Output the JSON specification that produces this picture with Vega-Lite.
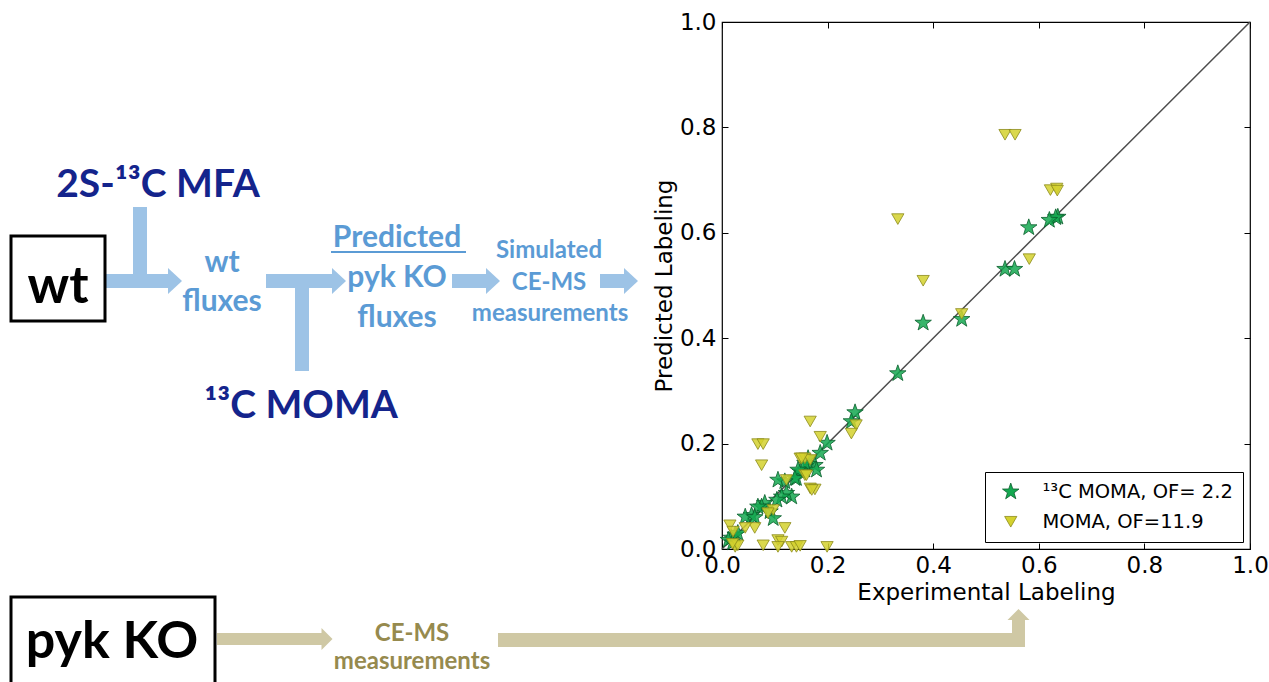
{
  "$schema": "https://vega.github.io/schema/vega-lite/v6.json",
  "width": 528,
  "height": 527,
  "autosize": {"type": "none"},
  "padding": {"left": 722, "top": 22, "right": 19, "bottom": 133},
  "background": "white",
  "config": {"view": {"stroke": "#000", "strokeWidth": 1.2}},
  "layer": [
    {
      "layer": [
        {
          "data": {"values": [{"exp": 0, "pred": 0}, {"exp": 1, "pred": 1}]},
          "mark": {"type": "line", "color": "#4d4d4d", "strokeWidth": 1.5},
          "encoding": {
            "x": {"field": "exp", "type": "quantitative", "scale": {"domain": [0, 1], "nice": false},
              "axis": {"orient": "top", "labels": false, "title": null, "domain": false, "grid": false, "tickSize": -6, "tickColor": "#000", "values": [0, 0.2, 0.4, 0.6, 0.8, 1]}},
            "y": {"field": "pred", "type": "quantitative", "scale": {"domain": [0, 1], "nice": false},
              "axis": {"orient": "right", "labels": false, "title": null, "domain": false, "grid": false, "tickSize": -6, "tickColor": "#000", "values": [0, 0.2, 0.4, 0.6, 0.8, 1]}}
          }
        },
        {
          "data": {"values": [
            {"model": "¹³C MOMA, OF= 2.2", "exp": 0.636, "pred": 0.630},
            {"model": "¹³C MOMA, OF= 2.2", "exp": 0.632, "pred": 0.629},
            {"model": "¹³C MOMA, OF= 2.2", "exp": 0.620, "pred": 0.624},
            {"model": "¹³C MOMA, OF= 2.2", "exp": 0.581, "pred": 0.610},
            {"model": "¹³C MOMA, OF= 2.2", "exp": 0.536, "pred": 0.531},
            {"model": "¹³C MOMA, OF= 2.2", "exp": 0.554, "pred": 0.531},
            {"model": "¹³C MOMA, OF= 2.2", "exp": 0.381, "pred": 0.429},
            {"model": "¹³C MOMA, OF= 2.2", "exp": 0.454, "pred": 0.436},
            {"model": "¹³C MOMA, OF= 2.2", "exp": 0.333, "pred": 0.333},
            {"model": "¹³C MOMA, OF= 2.2", "exp": 0.252, "pred": 0.259},
            {"model": "¹³C MOMA, OF= 2.2", "exp": 0.245, "pred": 0.242},
            {"model": "¹³C MOMA, OF= 2.2", "exp": 0.199, "pred": 0.201},
            {"model": "¹³C MOMA, OF= 2.2", "exp": 0.186, "pred": 0.182},
            {"model": "¹³C MOMA, OF= 2.2", "exp": 0.176, "pred": 0.159},
            {"model": "¹³C MOMA, OF= 2.2", "exp": 0.163, "pred": 0.161},
            {"model": "¹³C MOMA, OF= 2.2", "exp": 0.157, "pred": 0.150},
            {"model": "¹³C MOMA, OF= 2.2", "exp": 0.148, "pred": 0.147},
            {"model": "¹³C MOMA, OF= 2.2", "exp": 0.179, "pred": 0.150},
            {"model": "¹³C MOMA, OF= 2.2", "exp": 0.141, "pred": 0.134},
            {"model": "¹³C MOMA, OF= 2.2", "exp": 0.163, "pred": 0.172},
            {"model": "¹³C MOMA, OF= 2.2", "exp": 0.157, "pred": 0.163},
            {"model": "¹³C MOMA, OF= 2.2", "exp": 0.144, "pred": 0.150},
            {"model": "¹³C MOMA, OF= 2.2", "exp": 0.138, "pred": 0.134},
            {"model": "¹³C MOMA, OF= 2.2", "exp": 0.132, "pred": 0.099},
            {"model": "¹³C MOMA, OF= 2.2", "exp": 0.119, "pred": 0.128},
            {"model": "¹³C MOMA, OF= 2.2", "exp": 0.106, "pred": 0.131},
            {"model": "¹³C MOMA, OF= 2.2", "exp": 0.122, "pred": 0.106},
            {"model": "¹³C MOMA, OF= 2.2", "exp": 0.113, "pred": 0.099},
            {"model": "¹³C MOMA, OF= 2.2", "exp": 0.104, "pred": 0.093},
            {"model": "¹³C MOMA, OF= 2.2", "exp": 0.091, "pred": 0.071},
            {"model": "¹³C MOMA, OF= 2.2", "exp": 0.097, "pred": 0.058},
            {"model": "¹³C MOMA, OF= 2.2", "exp": 0.081, "pred": 0.087},
            {"model": "¹³C MOMA, OF= 2.2", "exp": 0.075, "pred": 0.080},
            {"model": "¹³C MOMA, OF= 2.2", "exp": 0.068, "pred": 0.080},
            {"model": "¹³C MOMA, OF= 2.2", "exp": 0.056, "pred": 0.064},
            {"model": "¹³C MOMA, OF= 2.2", "exp": 0.044, "pred": 0.061},
            {"model": "¹³C MOMA, OF= 2.2", "exp": 0.025, "pred": 0.027},
            {"model": "¹³C MOMA, OF= 2.2", "exp": 0.018, "pred": 0.021},
            {"model": "¹³C MOMA, OF= 2.2", "exp": 0.012, "pred": 0.017},
            {"model": "¹³C MOMA, OF= 2.2", "exp": 0.020, "pred": 0.012},
            {"model": "¹³C MOMA, OF= 2.2", "exp": 0.030, "pred": 0.030},
            {"model": "¹³C MOMA, OF= 2.2", "exp": 0.062, "pred": 0.060},
            {"model": "MOMA, OF=11.9", "exp": 0.536, "pred": 0.786},
            {"model": "MOMA, OF=11.9", "exp": 0.555, "pred": 0.786},
            {"model": "MOMA, OF=11.9", "exp": 0.622, "pred": 0.681},
            {"model": "MOMA, OF=11.9", "exp": 0.634, "pred": 0.684},
            {"model": "MOMA, OF=11.9", "exp": 0.635, "pred": 0.680},
            {"model": "MOMA, OF=11.9", "exp": 0.333, "pred": 0.626},
            {"model": "MOMA, OF=11.9", "exp": 0.582, "pred": 0.550},
            {"model": "MOMA, OF=11.9", "exp": 0.381, "pred": 0.509},
            {"model": "MOMA, OF=11.9", "exp": 0.454, "pred": 0.446},
            {"model": "MOMA, OF=11.9", "exp": 0.254, "pred": 0.235},
            {"model": "MOMA, OF=11.9", "exp": 0.245, "pred": 0.219},
            {"model": "MOMA, OF=11.9", "exp": 0.167, "pred": 0.242},
            {"model": "MOMA, OF=11.9", "exp": 0.186, "pred": 0.213},
            {"model": "MOMA, OF=11.9", "exp": 0.068, "pred": 0.199},
            {"model": "MOMA, OF=11.9", "exp": 0.078, "pred": 0.199},
            {"model": "MOMA, OF=11.9", "exp": 0.075, "pred": 0.159},
            {"model": "MOMA, OF=11.9", "exp": 0.148, "pred": 0.172},
            {"model": "MOMA, OF=11.9", "exp": 0.157, "pred": 0.172},
            {"model": "MOMA, OF=11.9", "exp": 0.167, "pred": 0.169},
            {"model": "MOMA, OF=11.9", "exp": 0.151, "pred": 0.172},
            {"model": "MOMA, OF=11.9", "exp": 0.157, "pred": 0.140},
            {"model": "MOMA, OF=11.9", "exp": 0.160, "pred": 0.140},
            {"model": "MOMA, OF=11.9", "exp": 0.167, "pred": 0.115},
            {"model": "MOMA, OF=11.9", "exp": 0.176, "pred": 0.113},
            {"model": "MOMA, OF=11.9", "exp": 0.170, "pred": 0.112},
            {"model": "MOMA, OF=11.9", "exp": 0.122, "pred": 0.131},
            {"model": "MOMA, OF=11.9", "exp": 0.097, "pred": 0.074},
            {"model": "MOMA, OF=11.9", "exp": 0.087, "pred": 0.068},
            {"model": "MOMA, OF=11.9", "exp": 0.062, "pred": 0.040},
            {"model": "MOMA, OF=11.9", "exp": 0.044, "pred": 0.040},
            {"model": "MOMA, OF=11.9", "exp": 0.119, "pred": 0.040},
            {"model": "MOMA, OF=11.9", "exp": 0.015, "pred": 0.045},
            {"model": "MOMA, OF=11.9", "exp": 0.021, "pred": 0.033},
            {"model": "MOMA, OF=11.9", "exp": 0.025, "pred": 0.004},
            {"model": "MOMA, OF=11.9", "exp": 0.030, "pred": 0.007},
            {"model": "MOMA, OF=11.9", "exp": 0.020, "pred": 0.010},
            {"model": "MOMA, OF=11.9", "exp": 0.078, "pred": 0.007},
            {"model": "MOMA, OF=11.9", "exp": 0.106, "pred": 0.017},
            {"model": "MOMA, OF=11.9", "exp": 0.113, "pred": 0.014},
            {"model": "MOMA, OF=11.9", "exp": 0.106, "pred": 0.004},
            {"model": "MOMA, OF=11.9", "exp": 0.132, "pred": 0.004},
            {"model": "MOMA, OF=11.9", "exp": 0.141, "pred": 0.004},
            {"model": "MOMA, OF=11.9", "exp": 0.148, "pred": 0.006},
            {"model": "MOMA, OF=11.9", "exp": 0.199, "pred": 0.004}
          ]},
          "mark": {"type": "point", "filled": true, "opacity": 1, "fillOpacity": 0.85, "strokeWidth": 0.8},
          "encoding": {
            "x": {"field": "exp", "type": "quantitative", "scale": {"domain": [0, 1], "nice": false},
              "axis": {"orient": "bottom", "title": "Experimental Labeling", "values": [0, 0.2, 0.4, 0.6, 0.8, 1], "format": ".1f",
                "domain": false, "grid": false, "tickSize": -6, "tickColor": "#000", "labelPadding": 11, "labelFlush": false, "labelOverlap": false,
                "labelFont": "DejaVu Sans", "labelFontSize": 23, "labelColor": "#000",
                "titleFont": "DejaVu Sans", "titleFontSize": 23, "titleFontWeight": "normal", "titleColor": "#000", "titlePadding": 4}},
            "y": {"field": "pred", "type": "quantitative", "scale": {"domain": [0, 1], "nice": false},
              "axis": {"orient": "left", "title": "Predicted Labeling", "values": [0, 0.2, 0.4, 0.6, 0.8, 1], "format": ".1f",
                "domain": false, "grid": false, "tickSize": -6, "tickColor": "#000", "labelPadding": 12, "labelFlush": false, "labelOverlap": false,
                "labelFont": "DejaVu Sans", "labelFontSize": 23, "labelColor": "#000",
                "titleFont": "DejaVu Sans", "titleFontSize": 23, "titleFontWeight": "normal", "titleColor": "#000", "titlePadding": 3}},
            "color": {"field": "model", "type": "nominal",
              "scale": {"domain": ["¹³C MOMA, OF= 2.2", "MOMA, OF=11.9"], "range": ["#14a850", "#d4d12e"]},
              "legend": {"title": null, "orient": "bottom-right", "offset": 7, "padding": 10, "strokeColor": "#000", "fillColor": "#fff",
                "labelFont": "DejaVu Sans", "labelFontSize": 19.5, "labelColor": "#000", "labelLimit": 400,
                "symbolOffset": 6, "labelOffset": 22, "rowPadding": 9, "symbolStrokeWidth": 0.8}},
            "stroke": {"field": "model", "type": "nominal",
              "scale": {"domain": ["¹³C MOMA, OF= 2.2", "MOMA, OF=11.9"], "range": ["#0a5e2c", "#8c8a1a"]}},
            "shape": {"field": "model", "type": "nominal",
              "scale": {"domain": ["¹³C MOMA, OF= 2.2", "MOMA, OF=11.9"], "range": ["M0,-1L0.235,-0.324L0.951,-0.309L0.38,0.124L0.588,0.809L0,0.4L-0.588,0.809L-0.38,0.124L-0.951,-0.309L-0.235,-0.324Z", "triangle-down"]}},
            "size": {"field": "model", "type": "ordinal",
              "scale": {"domain": ["¹³C MOMA, OF= 2.2", "MOMA, OF=11.9"], "range": [300, 150]}}
          }
        }
      ],
      "resolve": {"axis": {"x": "independent", "y": "independent"}}
    },
    {
      "encoding": {
        "x": {"field": "fx", "type": "quantitative", "scale": {"domain": [722, 1250], "nice": false, "zero": false}, "axis": null},
        "y": {"field": "fy", "type": "quantitative", "scale": {"domain": [22, 549], "reverse": true, "nice": false, "zero": false}, "axis": null}
      },
      "layer": [
        {
          "data": {"values": [
            {"fx": 106, "fx2": 168, "fy": 274, "fy2": 288},
            {"fx": 133, "fx2": 147, "fy": 207, "fy2": 274},
            {"fx": 266, "fx2": 332, "fy": 274, "fy2": 288},
            {"fx": 295, "fx2": 309, "fy": 288, "fy2": 371},
            {"fx": 452, "fx2": 486, "fy": 274, "fy2": 288},
            {"fx": 600, "fx2": 624, "fy": 274, "fy2": 288}
          ]},
          "mark": {"type": "rect", "color": "#9dc3e6"},
          "encoding": {"x2": {"field": "fx2"}, "y2": {"field": "fy2"}}
        },
        {
          "data": {"values": [
            {"fx": 175, "fy": 281}, {"fx": 339, "fy": 281}, {"fx": 493, "fy": 281}, {"fx": 631, "fy": 281}
          ]},
          "mark": {"type": "point", "shape": "M-0.54,-1L0.54,0L-0.54,1Z", "filled": true, "color": "#9dc3e6", "opacity": 1, "size": 676}
        },
        {
          "data": {"values": [
            {"fx": 217, "fx2": 322, "fy": 633, "fy2": 645},
            {"fx": 498, "fx2": 1025, "fy": 633, "fy2": 647},
            {"fx": 1012, "fx2": 1025, "fy": 619, "fy2": 647}
          ]},
          "mark": {"type": "rect", "color": "#cfc8a4"},
          "encoding": {"x2": {"field": "fx2"}, "y2": {"field": "fy2"}}
        },
        {
          "data": {"values": [{"fx": 327, "fy": 639}]},
          "mark": {"type": "point", "shape": "M-0.5,-1L0.5,0L-0.5,1Z", "filled": true, "color": "#cfc8a4", "opacity": 1, "size": 484}
        },
        {
          "data": {"values": [{"fx": 1018.5, "fy": 614.5}]},
          "mark": {"type": "point", "shape": "M-1,0.5L0,-0.5L1,0.5Z", "filled": true, "color": "#cfc8a4", "opacity": 1, "size": 484}
        },
        {
          "data": {"values": [
            {"fx": 11, "fx2": 105, "fy": 236, "fy2": 321},
            {"fx": 11, "fx2": 215, "fy": 597, "fy2": 700}
          ]},
          "mark": {"type": "rect", "fill": "#fff", "fillOpacity": 0, "stroke": "#000", "strokeWidth": 3},
          "encoding": {"x2": {"field": "fx2"}, "y2": {"field": "fy2"}}
        },
        {
          "data": {"values": [{"fx": 331, "fx2": 466, "fy": 252}]},
          "mark": {"type": "rule", "color": "#5b9bd5", "strokeWidth": 2},
          "encoding": {"x2": {"field": "fx2"}}
        },
        {
          "data": {"values": [
            {"label": "2S-¹³C MFA", "fx": 158, "fy": 197},
            {"label": "¹³C MOMA", "fx": 301, "fy": 418}
          ]},
          "mark": {"type": "text", "font": "Lato", "fontWeight": "bold", "fontSize": 39, "color": "#14248c", "align": "center", "baseline": "alphabetic"},
          "encoding": {"text": {"field": "label"}}
        },
        {
          "data": {"values": [
            {"label": "wt", "fx": 58, "fy": 303},
            {"label": "pyk KO", "fx": 112, "fy": 658}
          ]},
          "mark": {"type": "text", "font": "Lato", "fontWeight": "bold", "fontSize": 52, "color": "#000", "align": "center", "baseline": "alphabetic"},
          "encoding": {"text": {"field": "label"}}
        },
        {
          "data": {"values": [
            {"label": "wt", "fx": 222, "fy": 272},
            {"label": "fluxes", "fx": 222, "fy": 311},
            {"label": "Predicted", "fx": 397, "fy": 247},
            {"label": "pyk KO", "fx": 397, "fy": 287},
            {"label": "fluxes", "fx": 397, "fy": 327}
          ]},
          "mark": {"type": "text", "font": "Lato", "fontWeight": "bold", "fontSize": 30, "color": "#5b9bd5", "align": "center", "baseline": "alphabetic"},
          "encoding": {"text": {"field": "label"}}
        },
        {
          "data": {"values": [
            {"label": "Simulated", "fx": 549, "fy": 258},
            {"label": "CE-MS", "fx": 549, "fy": 290},
            {"label": "measurements", "fx": 550, "fy": 321}
          ]},
          "mark": {"type": "text", "font": "Lato", "fontWeight": "bold", "fontSize": 24, "color": "#5b9bd5", "align": "center", "baseline": "alphabetic"},
          "encoding": {"text": {"field": "label"}}
        },
        {
          "data": {"values": [
            {"label": "CE-MS", "fx": 412, "fy": 641},
            {"label": "measurements", "fx": 412, "fy": 669}
          ]},
          "mark": {"type": "text", "font": "Lato", "fontWeight": "bold", "fontSize": 24, "color": "#968a4e", "align": "center", "baseline": "alphabetic"},
          "encoding": {"text": {"field": "label"}}
        }
      ]
    }
  ],
  "resolve": {"scale": {"x": "independent", "y": "independent"}}
}
